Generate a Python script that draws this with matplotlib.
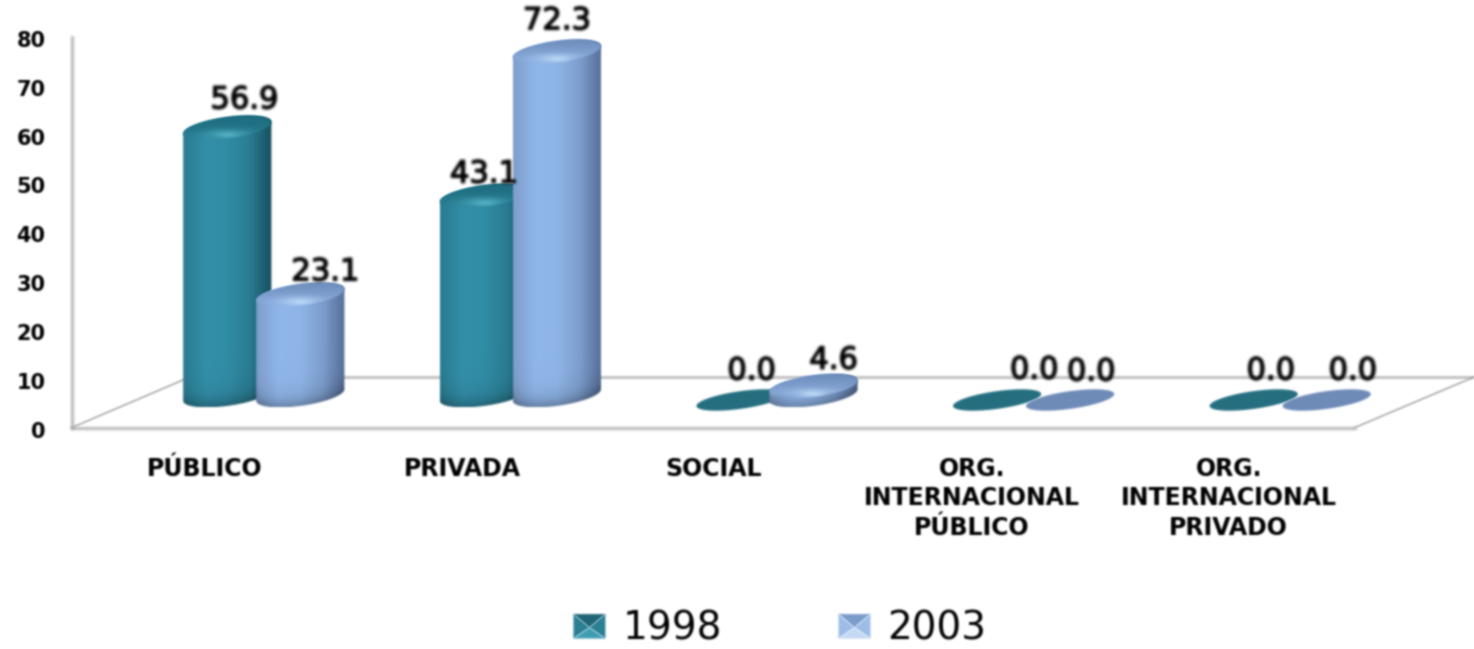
import numpy as np
import matplotlib
matplotlib.use('Agg')
import matplotlib.pyplot as plt
import matplotlib.patheffects as pe
from matplotlib.colors import LinearSegmentedColormap, to_rgb
from matplotlib.image import AxesImage
from matplotlib.legend_handler import HandlerBase
from matplotlib.lines import Line2D
from matplotlib.patches import Patch, Polygon
from matplotlib.spines import Spine
from matplotlib.text import Text
from matplotlib.transforms import ScaledTranslation

categories = ['PÚBLICO', 'PRIVADA', 'SOCIAL', 'ORG.\nINTERNACIONAL\nPÚBLICO', 'ORG.\nINTERNACIONAL\nPRIVADO']
series_names = ['1998', '2003']
values_1998 = [56.9, 43.1, 0.0, 0.0, 0.0]
values_2003 = [23.1, 72.3, 4.6, 0.0, 0.0]
y_ticks = [0, 10, 20, 30, 40, 50, 60, 70, 80]

# label nudges in pixels, the labels sit a bit off the bars in the original
label_dx_1998 = [17, 0, 11, 37, 17]
label_dy_1998 = [28, 22, 29, 30, 29]
label_dx_2003 = [25, 0, 20, 21, 26]
label_dy_2003 = [23, 31, 26, 28, 29]
category_shift = [4, 5, 0, 2, 2]

# axes box in pixels
AX_LEFT, AX_RIGHT, AX_BOTTOM, AX_TOP = 72, 1355, 427.5, 37
W, H = 1474, 649
PX_X = (AX_RIGHT - AX_LEFT) / 5.0
PX_Y = (AX_BOTTOM - AX_TOP) / 80.0

DEPTH = 63.5 / PX_X      # bars stand further back on the floor
OFFSET = 36.5 / PX_X
BASE_Y = (AX_BOTTOM - 395) / PX_Y
FLAT_Y = (AX_BOTTOM - 400) / PX_Y
LIFT = (AX_BOTTOM - 409) / PX_Y
GAIN = 1.012
TILT = np.radians(8)
RX, RY = 44.5, 10.8

body_stops = {
    '1998': ['#2b7b90', '#338fa9', '#318ca5', '#2a7d93', '#174f5e'],
    '2003': ['#7f9dcb', '#90b7ea', '#8fb5e7', '#7e9fce', '#566f98'],
}
top_colors = {
    '1998': ('#1d6a7c', '#2a7f94', '#55b3c6'),
    '2003': ('#6d8cba', '#8fb2e2', '#bcd9f7'),
}
flat_colors = {'1998': '#256f80', '2003': '#6f8bb8'}
swatch_colors = {
    '1998': ('#1f6577', '#2a7f94', '#3f9db3'),
    '2003': ('#7c9ccb', '#9dbde8', '#c3d9f4'),
}


def soften(img, dpi):
    """small blur, the reference is an upscaled screenshot"""
    pad = 4
    a = np.pad(img, ((pad, pad), (pad, pad), (0, 0)))
    a[..., :3] *= a[..., 3:]
    taps = [(-2, 0.06), (-1, 0.24), (0, 0.4), (1, 0.24), (2, 0.06)]
    for axis in (0, 1):
        a = sum(w * np.roll(a, s, axis=axis) for s, w in taps)
    alpha = np.clip(a[..., 3:], 1e-4, None)
    a[..., :3] = np.clip(a[..., :3] / alpha, 0, 1)
    return a, -pad, -pad


def ellipse_xy(xc, yc, ry, t):
    """point(s) of the tilted ellipse, built in pixels and returned in data units"""
    px = RX * np.cos(t) * np.cos(TILT) - ry * np.sin(t) * np.sin(TILT)
    py = RX * np.cos(t) * np.sin(TILT) + ry * np.sin(t) * np.cos(TILT)
    return xc + px / PX_X, yc + py / PX_Y


def draw_cylinder(ax, xc, value, name, z):
    top_y = LIFT + GAIN * value
    t_r = np.arctan2(-RY * np.sin(TILT), RX * np.cos(TILT))
    upper = np.linspace(t_r, t_r + np.pi, 60)
    lower = np.linspace(t_r + np.pi, t_r + 2 * np.pi, 60)
    ux, uy = ellipse_xy(xc, top_y, RY, upper)
    lx, ly = ellipse_xy(xc, BASE_Y, RY, lower)
    outline = np.column_stack([np.r_[ux, lx], np.r_[uy, ly]])

    x0, x1 = outline[:, 0].min(), outline[:, 0].max()
    y0, y1 = outline[:, 1].min(), outline[:, 1].max()
    cmap = LinearSegmentedColormap.from_list('b' + name, body_stops[name])
    cols = np.linspace(x0, x1, 128)
    rows = np.linspace(y0, y1, 200)
    X, Y = np.meshgrid(cols, rows)
    img = cmap(np.linspace(0, 1, 128))[None, :, :3] * np.ones((200, 1, 1))
    # darker rim along the foot of the cylinder
    foot = np.interp(X.ravel(), lx, ly).reshape(X.shape)
    rim = np.exp(-np.clip(Y - foot, 0, None) * PX_Y / 9.0)[..., None]
    img = img * (1 - 0.28 * rim)
    im = ax.imshow(img, aspect='auto', interpolation='bilinear', origin='lower',
                   extent=[x0, x1, y0, y1], zorder=z)
    im.set_clip_path(Polygon(outline, closed=True, transform=ax.transData))

    # top cap, fades into the body at its lower edge
    t = np.linspace(0, 2 * np.pi, 120)
    cx, cy = ellipse_xy(xc, top_y, RY, t)
    dark, mid, light = [np.array(to_rgb(c)) for c in top_colors[name]]
    n = 64
    u, w = np.meshgrid(np.linspace(-1, 1, n), np.linspace(-1, 1, n))
    blend = ((w + 1) / 2)[..., None]
    rgb = mid * (1 - blend) + dark * blend
    glow = np.exp(-((u / 0.5) ** 2 + ((w + 0.6) / 0.38) ** 2))[..., None]
    rgb = rgb * (1 - glow) + light * glow
    fade = np.clip((w + 1.0) / 0.7, 0, 1)
    fade = np.maximum(fade, glow[..., 0])
    cap_img = np.dstack([rgb, fade])
    cap = ax.imshow(cap_img, aspect='auto', interpolation='bilinear', origin='lower',
                    extent=[cx.min(), cx.max(), cy.min(), cy.max()], zorder=z + 0.1)
    cap.set_clip_path(Polygon(np.column_stack([cx, cy]), closed=True, transform=ax.transData))


def draw_flat(ax, xc, name, z):
    t = np.linspace(0, 2 * np.pi, 120)
    cx, cy = ellipse_xy(xc, FLAT_Y, 8.8, t)
    ax.add_patch(Polygon(np.column_stack([cx, cy]), closed=True, fc=flat_colors[name], ec='none',
                         zorder=z, clip_on=False))


class EnvelopeHandler(HandlerBase):
    def create_artists(self, legend, orig_handle, xdescent, ydescent, width, height, fontsize, trans):
        dark, mid, light = swatch_colors[orig_handle.get_label()]
        x0, y0 = -xdescent, -ydescent
        x1, y1 = x0 + width, y0 + height
        c = ((x0 + x1) / 2, y0 + height * 0.45)
        faces = [([(x0, y1), (x1, y1), c], dark),
                 ([(x0, y0), (x0, y1), c], mid),
                 ([(x1, y0), (x1, y1), c], mid),
                 ([(x0, y0), (x1, y0), c], light)]
        return [Polygon(p, closed=True, fc=col, ec='none', transform=trans) for p, col in faces]


fig = plt.figure(figsize=(W / 100, H / 100), dpi=100)
ax = fig.add_axes([AX_LEFT / W, (H - AX_BOTTOM) / H, (AX_RIGHT - AX_LEFT) / W, (AX_BOTTOM - AX_TOP) / H])

for i, (v98, v03) in enumerate(zip(values_1998, values_2003)):
    x98 = i + DEPTH - OFFSET
    x03 = i + DEPTH + OFFSET
    for xc, v, name, z, dx, dy in [(x98, v98, '1998', 3, label_dx_1998[i], label_dy_1998[i]),
                                   (x03, v03, '2003', 4, label_dx_2003[i], label_dy_2003[i])]:
        if v == 0:
            draw_flat(ax, xc, name, z)
            anchor_y = FLAT_Y
        else:
            draw_cylinder(ax, xc, v, name, z)
            anchor_y = LIFT + GAIN * v
        ax.annotate('%.1f' % v, (xc, anchor_y), xytext=(dx * 0.72, dy * 0.72), textcoords='offset points',
                    ha='center', va='center', fontsize=22, color='black', zorder=6, annotation_clip=False,
                    path_effects=[pe.withStroke(linewidth=1.0, foreground='black')])

# floor of the 3d box
far_x = 4.5 + 119 / PX_X
far_y = (AX_BOTTOM - 377) / PX_Y
back_x = -0.5 + 118 / PX_X
ax.plot([back_x, far_x], [far_y, far_y], color='#c4c4c4', lw=2.2, zorder=1, clip_on=False)
ax.plot([-0.5, back_x], [0, far_y], color='#9a9a9a', lw=1, zorder=1, clip_on=False)
ax.plot([4.5, far_x], [0, far_y], color='#9a9a9a', lw=1, zorder=1, clip_on=False)

ax.set_xlim(-0.5, 4.5)
ax.set_ylim(0, 80)
ax.set_yticks(y_ticks)
ax.set_xticks(range(len(categories)))
ax.set_xticklabels(categories, fontsize=17, fontweight='bold', color='black', linespacing=1.3)
ax.set_yticklabels([str(t) for t in y_ticks], fontsize=15, fontweight='bold', color='black')
ax.tick_params(axis='x', length=0, pad=21)
ax.tick_params(axis='y', length=0, pad=19)
for lab, shift in zip(ax.get_xticklabels(), category_shift):
    lab.set_transform(lab.get_transform() + ScaledTranslation(shift / 100, 0, fig.dpi_scale_trans))
for lab in ax.get_yticklabels():
    lab.set_transform(lab.get_transform() + ScaledTranslation(0, -2 / 100, fig.dpi_scale_trans))
for s in ['top', 'right']:
    ax.spines[s].set_visible(False)
for s in ['left', 'bottom']:
    ax.spines[s].set_color('#a8a8a8')
    ax.spines[s].set_linewidth(1.8)
ax.patch.set_alpha(0)

handles = [Patch(label=n) for n in series_names]
leg = fig.legend(handles=handles, labels=series_names, handler_map={Patch: EnvelopeHandler()}, ncol=2,
                 loc='center', bbox_to_anchor=(780 / W, (H - 629) / H), frameon=False, fontsize=28,
                 handlelength=0.82, handleheight=0.59, handletextpad=0.44, columnspacing=3.0, borderpad=0)

for art in fig.findobj(lambda a: isinstance(a, (Text, Polygon, AxesImage, Line2D, Spine))):
    art.set_agg_filter(soften)

fig.savefig('out.png', dpi=100, facecolor='white')
